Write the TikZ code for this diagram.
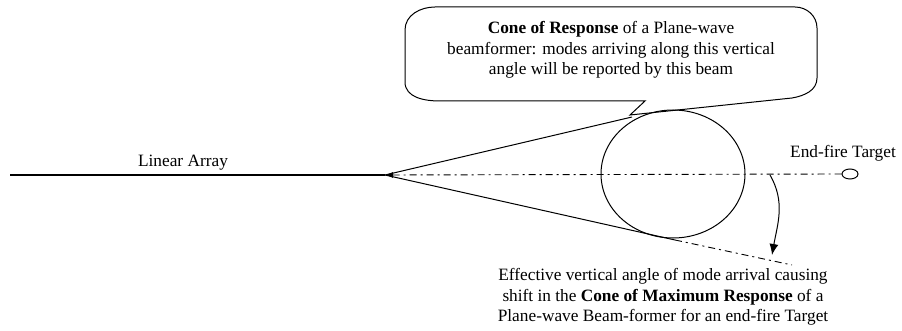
\documentclass[tikz,border=0pt]{standalone}
\usepackage{fontspec}
\setmainfont{Liberation Serif}
\usetikzlibrary{arrows.meta,shapes.geometric}

\begin{document}
\begin{tikzpicture}[x=1pt, y=1pt, >=Latex,
    dashdot/.style={line width=0.9pt, dash pattern=on 7pt off 4pt on 2pt off 4pt},
    edge/.style={line width=1pt},
    lbl/.style={font=\fontsize{17.3}{20.5}\selectfont, align=center, inner sep=0pt}]
  \useasboundingbox (0,0) rectangle (902,-331);

  \coordinate (start) at (10,-175);
  \coordinate (apex) at (385,-175);
  \coordinate (toptan) at (632,-117);
  \coordinate (bottan) at (675,-240);
  \coordinate (rayend) at (792,-265);
  \coordinate (swing) at (770,-175);
  \coordinate (swingend) at (772,-255);

  \node[draw, ellipse, edge, minimum width=144pt, minimum height=128pt, inner sep=0pt] (beam) at (673,-174) {};
  \node[draw, ellipse, edge, minimum width=16pt, minimum height=10pt, inner sep=0pt] (target) at (850,-174) {};

  \node[lbl] (array) at (183,-163) {Linear Array};
  \node[lbl] (endfire) at (843,-153) {End-fire Target};
  \node[lbl] (resp) at (611,-50) {\textbf{Cone of Response} of a Plane-wave\\beamformer: modes arriving along this vertical\\angle will be reported by this beam};
  \node[lbl] (shift) at (663,-297) {Effective vertical angle of mode arrival causing\\shift in the \textbf{Cone of Maximum Response} of a\\Plane-wave Beam-former for an end-fire Target};

  % callout round the upper text
  \draw[edge] (405,-30) to[out=90,in=180] (435,-7) -- (795,-7) to[out=0,in=90] (817,-28)
    -- (817,-78) to[out=-90,in=10] (792,-98) -- (630,-115) -- (645,-101) -- (440,-101)
    to[out=180,in=-90] (405,-82) -- cycle;

  \draw[line width=2.6pt] (start) -- (apex);
  \draw[dashdot, -{Latex[length=8pt,width=6pt]}] (target.west) -- (apex);
  \draw[edge] (apex) -- (toptan);
  \draw[edge] (apex) -- (bottan);
  \draw[dashdot] (bottan) -- (rayend);
  \draw[edge, -{Latex[length=11pt,width=9pt]}] (swing) to[out=-60,in=80] (swingend);
\end{tikzpicture}
\end{document}
